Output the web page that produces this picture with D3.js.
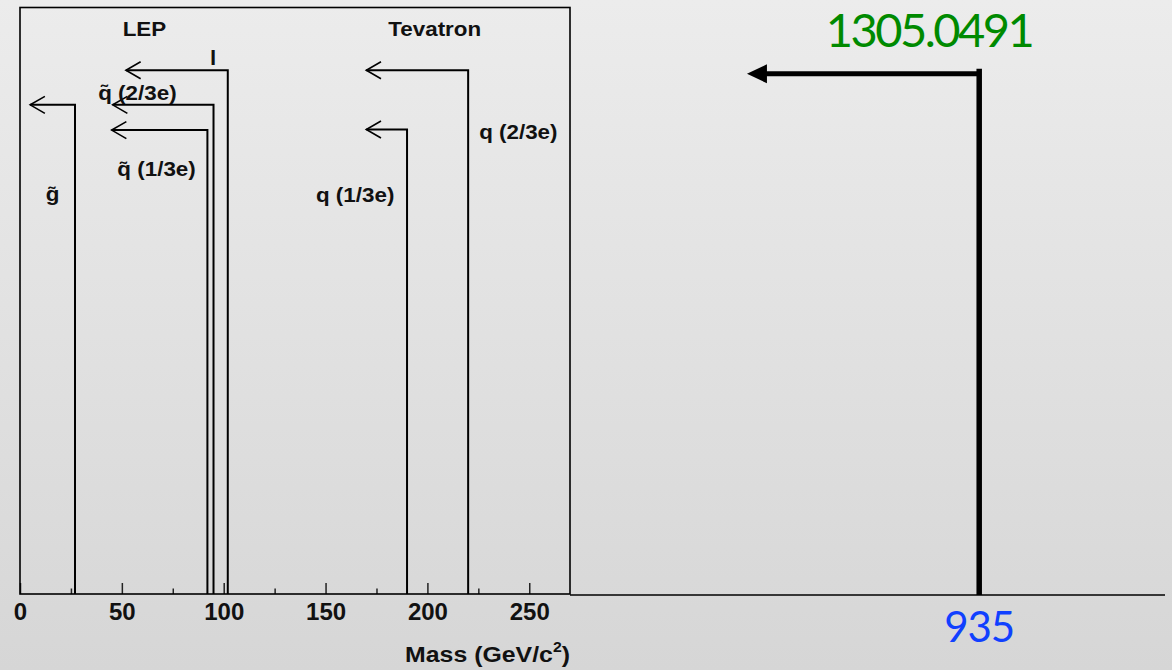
<!DOCTYPE html>
<html>
<head>
<meta charset="utf-8">
<script src="https://cdn.jsdelivr.net/npm/d3@7"></script>
<style>
  html, body { margin: 0; padding: 0; }
  body { width: 1172px; height: 670px; overflow: hidden; }
  svg { display: block; }
</style>
</head>
<body>
<svg id="chart" width="1172" height="670"></svg>
<script>
// Mass limits (GeV/c^2) for stable heavy particles, with the reach of each exclusion arrow
const particleLabels = ["g\u0303", "q\u0303 (1/3e)", "q\u0303 (2/3e)", "l", "q (1/3e)", "q (2/3e)"];
const limitMass      = [27, 92, 95, 102, 190, 220];
const arrowReach     = [5, 45, 45.5, 52, 170, 170];
const arrowLevel     = [83.4, 79.1, 83.4, 89.3, 79.2, 89.3];
const experiments    = ["LEP", "Tevatron"];
const majorTicks     = [0, 50, 100, 150, 200, 250];
const minorTicks     = [25, 75, 125, 175, 225];
const axisTitle      = "Mass (GeV/c";

// Newer result drawn on the right-hand panel
const newLimit      = 935;
const newReach      = 830;
const newLevel      = 88.7;
const newReference  = "1305.0491";

// Layout
const W = 1172, H = 670;
const frame = { left: 20, right: 570, top: 7.5, bottom: 594 };
const panel = { left: 570, right: 1165, baseline: 595 };
const stretch = 1.12;

// Label anchors expressed in data units (mass, level)
const labelAnchor = [[12.6, 67.0], [47.8, 71.2], [38.4, 84.3], [93.3, 90.2], [145.3, 66.8], [225.4, 77.5]];
const expAnchor   = [[50.4, 95.2], [180.8, 95.2]];

const svg = d3.select("#chart");

const defs = svg.append("defs");
const grad = defs.append("linearGradient").attr("id", "bg").attr("x1", 0).attr("y1", 0).attr("x2", 0).attr("y2", 1);
grad.append("stop").attr("offset", "0%").attr("stop-color", "#ececec");
grad.append("stop").attr("offset", "100%").attr("stop-color", "#d6d6d6");
svg.append("rect").attr("width", W).attr("height", H).attr("fill", "url(#bg)");

const x = d3.scaleLinear().domain([0, 270]).range([frame.left, frame.right]);
const y = d3.scaleLinear().domain([0, 100]).range([frame.bottom, frame.top]);
const xR = d3.scaleLinear().domain([750, 1019]).range([panel.left, panel.right]);

const font = "'Liberation Sans', Arial, Helvetica, sans-serif";

// Axis: major ticks with labels, minor ticks without
const gAxis = svg.append("g").attr("transform", `translate(0,${frame.bottom})`);
gAxis.call(d3.axisBottom(x).tickValues(majorTicks).tickFormat(d3.format("d"))
  .tickSizeInner(-11).tickSizeOuter(0).tickPadding(9));
gAxis.select(".domain").remove();
gAxis.selectAll(".tick line").attr("stroke", "#222").attr("stroke-width", 1.5);
gAxis.selectAll(".tick text").attr("font-family", font).attr("font-weight", "bold")
  .attr("font-size", 24).attr("fill", "#111");
const gMinor = svg.append("g").attr("transform", `translate(0,${frame.bottom})`);
gMinor.call(d3.axisBottom(x).tickValues(minorTicks).tickFormat("").tickSizeInner(-5.5).tickSizeOuter(0));
gMinor.select(".domain").remove();
gMinor.selectAll(".tick line").attr("stroke", "#222").attr("stroke-width", 1.5);

// Axis title with superscript
const title = svg.append("text")
  .attr("transform", `translate(${frame.right},${661.7}) scale(1.13,1)`)
  .attr("text-anchor", "end")
  .attr("font-family", font).attr("font-weight", "bold").attr("font-size", 22).attr("fill", "#111");
title.append("tspan").text(axisTitle);
title.append("tspan").attr("font-size", 14).attr("dy", -10).text("2");
title.append("tspan").attr("dy", 10).text(")");

// Frame
svg.append("rect")
  .attr("x", frame.left).attr("y", frame.top)
  .attr("width", frame.right - frame.left).attr("height", frame.bottom - frame.top)
  .attr("fill", "none").attr("stroke", "#000").attr("stroke-width", 1.6);

// Limit lines with open arrowheads
const limits = limitMass.map((m, i) => ({ m, reach: arrowReach[i], level: arrowLevel[i] }));
const gLim = svg.append("g").attr("fill", "none").attr("stroke", "#000");
gLim.selectAll("path.limit").data(limits).join("path")
  .attr("class", "limit")
  .attr("stroke-width", 2)
  .attr("d", d => `M${x(d.m)},${y(0)}V${y(d.level)}H${x(d.reach)}`);
gLim.selectAll("path.head").data(limits).join("path")
  .attr("class", "head")
  .attr("stroke-width", 1.6)
  .attr("d", d => {
    const tx = x(d.reach), ty = y(d.level);
    return `M${tx + 14.7},${ty - 8.5}L${tx},${ty}L${tx + 14.7},${ty + 8.5}`;
  });

// Particle and experiment labels
svg.append("g").selectAll("text").data(particleLabels).join("text")
  .attr("transform", (d, i) => `translate(${x(labelAnchor[i][0])},${y(labelAnchor[i][1])}) scale(${stretch},1)`)
  .attr("font-family", font).attr("font-weight", "bold").attr("font-size", 20).attr("fill", "#111")
  .text(d => d);
svg.append("g").selectAll("text").data(experiments).join("text")
  .attr("transform", (d, i) => `translate(${x(expAnchor[i][0])},${y(expAnchor[i][1])}) scale(${stretch},1)`)
  .attr("font-family", font).attr("font-weight", "bold").attr("font-size", 20).attr("fill", "#111")
  .text(d => d);

// Right panel: baseline, new limit and its arrow
svg.append("line")
  .attr("x1", panel.left).attr("x2", panel.right)
  .attr("y1", panel.baseline).attr("y2", panel.baseline)
  .attr("stroke", "#000").attr("stroke-width", 1.6);

const headLen = 20, headHalf = 9.5;
svg.append("path")
  .attr("d", `M${xR(newLimit)},${y(newLevel)}H${xR(newReach) + headLen - 1}`)
  .attr("stroke", "#000").attr("stroke-width", 5).attr("fill", "none");
svg.append("path")
  .attr("d", `M${xR(newReach)},${y(newLevel)}L${xR(newReach) + headLen},${y(newLevel) - headHalf}L${xR(newReach) + headLen},${y(newLevel) + headHalf}Z`)
  .attr("fill", "#000");
svg.append("line")
  .attr("x1", xR(newLimit)).attr("x2", xR(newLimit))
  .attr("y1", y(newLevel) - 5).attr("y2", panel.baseline)
  .attr("stroke", "#000").attr("stroke-width", 5.5);

const humanist = "Lato, 'Open Sans', sans-serif";
svg.append("text")
  .attr("x", 929).attr("y", 46.7)
  .attr("text-anchor", "middle")
  .attr("font-family", humanist).attr("font-size", 47).attr("letter-spacing", -2.5).attr("fill", "#008a00")
  .text(newReference);
svg.append("text")
  .attr("x", xR(newLimit)).attr("y", 641.7)
  .attr("text-anchor", "middle")
  .attr("font-family", humanist).attr("font-size", 42).attr("letter-spacing", -1).attr("fill", "#1040ff")
  .text(d3.format("d")(newLimit));
</script>
</body>
</html>
